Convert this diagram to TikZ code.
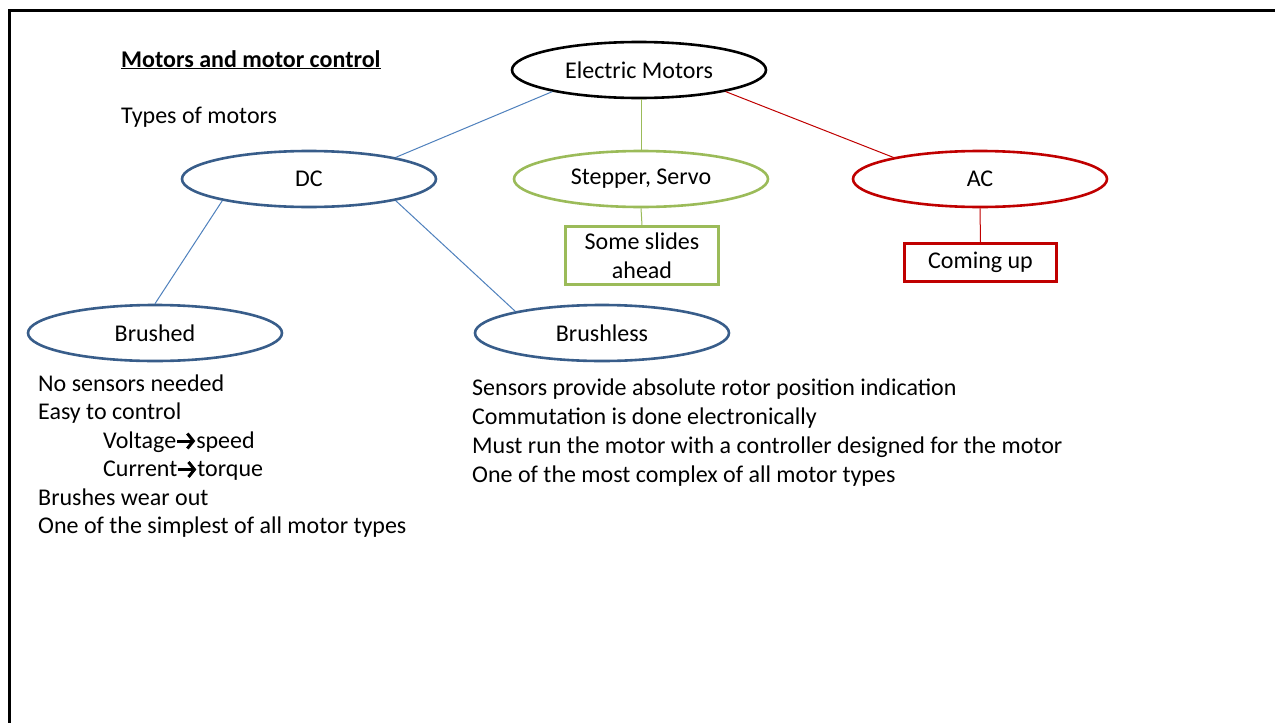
\documentclass[tikz,border=0pt]{standalone}
\usepackage{fontspec}
\setmainfont{Carlito}
\usetikzlibrary{shapes.geometric,arrows.meta}
\definecolor{ovblue}{HTML}{385D8A}
\definecolor{lnblue}{HTML}{4F81BD}
\definecolor{ovgreen}{HTML}{9BBB59}
\definecolor{ovred}{HTML}{C00000}
\newcommand{\rarr}{\tikz[x=1pt,y=1pt,baseline=0pt]{\useasboundingbox (0,0) rectangle (20,14);\draw[line width=3pt,-{Straight Barb[length=6pt,width=15pt,line width=3pt]}] (1,7) -- (19,7);}}
\tikzset{
  oval/.style={ellipse, draw, line width=2.6pt, minimum width=254pt, minimum height=56pt, inner sep=0pt, font=\fontsize{24}{29}\selectfont},
  tbox/.style={draw, line width=2.6pt, inner sep=0pt, align=center, font=\fontsize{24}{29}\selectfont},
  txt/.style={anchor=base west, inner sep=0pt, font=\fontsize{24}{29}\selectfont},
  conn/.style={line width=1pt},
}
\begin{document}
\begin{tikzpicture}[x=1pt,y=-1pt]
\useasboundingbox (0,0) rectangle (1275,723);
\fill[white] (0,0) rectangle (1275,723);
\draw[line width=3pt] (9,723) -- (9,10.5) -- (1275,10.5);

\node[txt] (title) at (121,67) {\textbf{\underline{Motors and motor control}}};
\node[txt] (types) at (121,123) {Types of motors};

\node[oval, draw=black] (em) at (639,70) {Electric Motors};
\node[oval, draw=ovblue] (dc) at (309,179) {DC};
\node[oval, draw=ovgreen] (ss) at (641,179) {Stepper, Servo};
\node[oval, draw=ovred] (ac) at (980,179) {AC};
\node[oval, draw=ovblue] (bd) at (155,333) {Brushed};
\node[oval, draw=ovblue] (bl) at (602,333) {Brushless};

\node[tbox, draw=ovgreen, minimum width=153pt, minimum height=58pt] (sl) at (642,255.5) {Some slides\\ahead};
\node[tbox, draw=ovred, minimum width=152pt, minimum height=38pt] (cu) at (980.5,262.5) {Coming up};

\draw[conn, lnblue] (em.194) -- (dc.14);
\draw[conn, ovgreen] (em.south -| ss.north) -- (ss.north);
\draw[conn, ovred] (em.346) -- (ac.166);
\draw[conn, lnblue] (dc.194) -- (bd.north);
\draw[conn, lnblue] (dc.346) -- (bl.166);
\draw[conn, ovgreen] (ss.south) -- (sl.north);
\draw[conn, ovred] (ac.south) -- (cu.north);

\node[txt] (l1) at (38,391) {No sensors needed};
\node[txt] (l2) at (38,419.5) {Easy to control};
\node[txt] (l3) at (103,448) {Voltage\rarr speed};
\node[txt] (l4) at (103,476.5) {Current\rarr torque};
\node[txt] (l5) at (38,505) {Brushes wear out};
\node[txt] (l6) at (38,533) {One of the simplest of all motor types};

\node[txt] (r1) at (472,395) {Sensors provide absolute rotor position indication};
\node[txt] (r2) at (472,424) {Commutation is done electronically};
\node[txt] (r3) at (472,453) {Must run the motor with a controller designed for the motor};
\node[txt] (r4) at (472,482) {One of the most complex of all motor types};
\end{tikzpicture}
\end{document}
